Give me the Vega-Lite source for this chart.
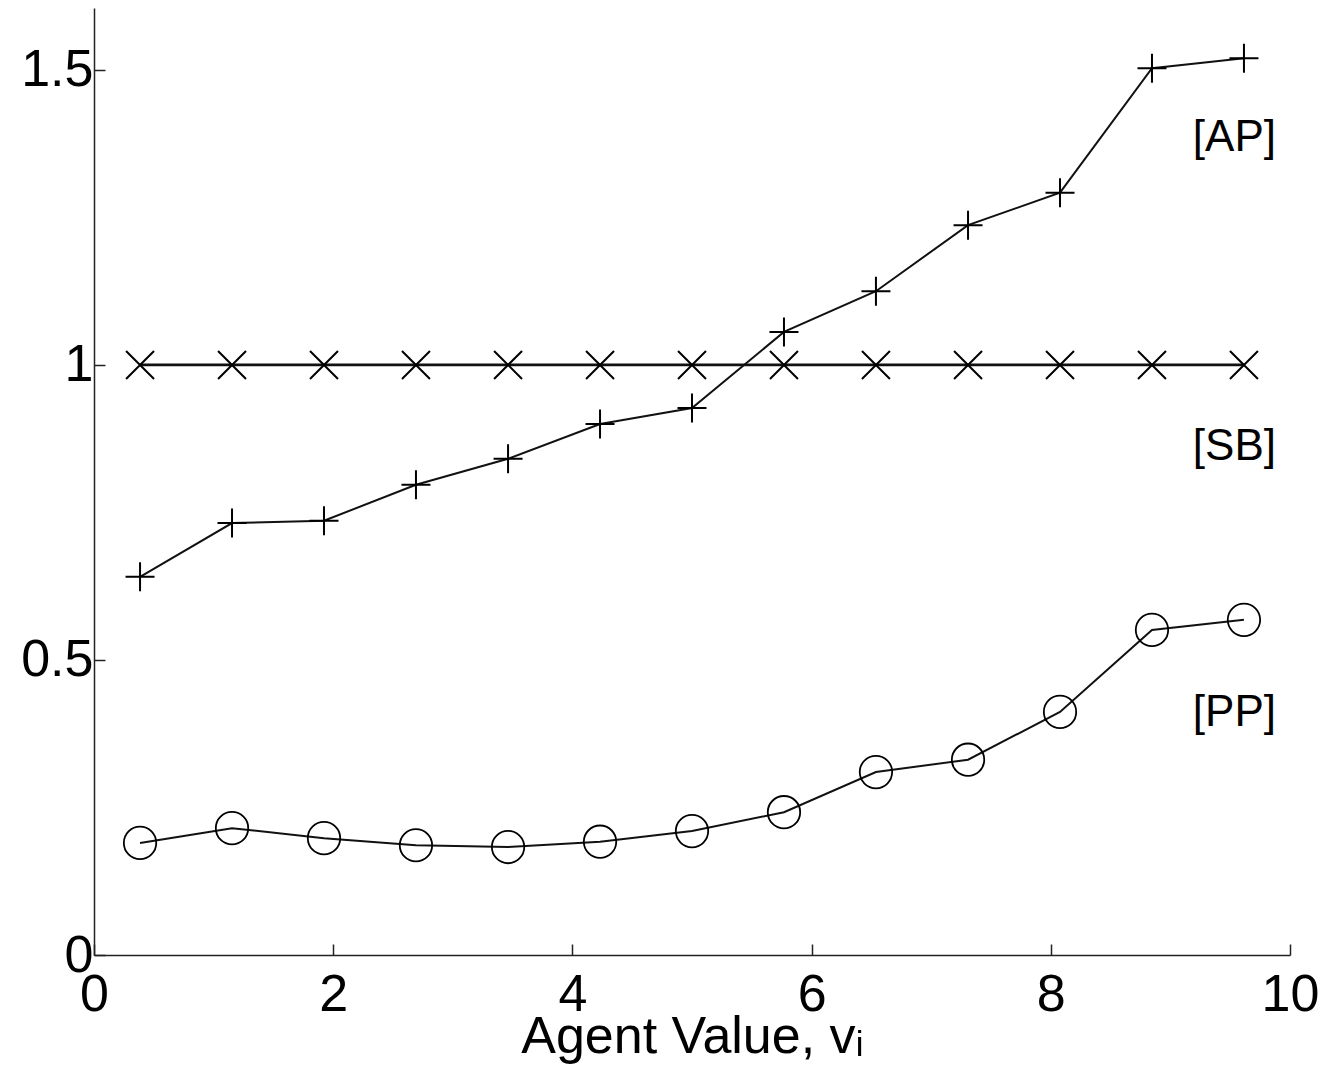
{
  "$schema": "https://vega.github.io/schema/vega-lite/v6.json",
  "width": 1196,
  "height": 947,
  "autosize": {"type": "none"},
  "padding": {"left": 94, "top": 8, "right": 35, "bottom": 125},
  "background": "white",
  "config": {
    "view": {"stroke": null},
    "font": "Liberation Sans",
    "axis": {
      "domainColor": "#222",
      "domainWidth": 1.5,
      "tickColor": "#222",
      "tickWidth": 1.5,
      "tickSize": -11,
      "grid": false,
      "labelFont": "Liberation Sans",
      "labelFontSize": 52,
      "labelColor": "black",
      "titleFont": "Liberation Sans",
      "titleFontSize": 52,
      "titleFontWeight": "normal",
      "titleColor": "black"
    }
  },
  "data": {
    "values": [
      {"series": "AP", "x": 0.385, "y": 0.641},
      {"series": "AP", "x": 1.154, "y": 0.732},
      {"series": "AP", "x": 1.923, "y": 0.736},
      {"series": "AP", "x": 2.692, "y": 0.797},
      {"series": "AP", "x": 3.462, "y": 0.841},
      {"series": "AP", "x": 4.231, "y": 0.9},
      {"series": "AP", "x": 5.0, "y": 0.927},
      {"series": "AP", "x": 5.769, "y": 1.056},
      {"series": "AP", "x": 6.538, "y": 1.125},
      {"series": "AP", "x": 7.308, "y": 1.237},
      {"series": "AP", "x": 8.077, "y": 1.292},
      {"series": "AP", "x": 8.846, "y": 1.503},
      {"series": "AP", "x": 9.615, "y": 1.52},
      {"series": "SB", "x": 0.385, "y": 1.0},
      {"series": "SB", "x": 1.154, "y": 1.0},
      {"series": "SB", "x": 1.923, "y": 1.0},
      {"series": "SB", "x": 2.692, "y": 1.0},
      {"series": "SB", "x": 3.462, "y": 1.0},
      {"series": "SB", "x": 4.231, "y": 1.0},
      {"series": "SB", "x": 5.0, "y": 1.0},
      {"series": "SB", "x": 5.769, "y": 1.0},
      {"series": "SB", "x": 6.538, "y": 1.0},
      {"series": "SB", "x": 7.308, "y": 1.0},
      {"series": "SB", "x": 8.077, "y": 1.0},
      {"series": "SB", "x": 8.846, "y": 1.0},
      {"series": "SB", "x": 9.615, "y": 1.0},
      {"series": "PP", "x": 0.385, "y": 0.19},
      {"series": "PP", "x": 1.154, "y": 0.215},
      {"series": "PP", "x": 1.923, "y": 0.198},
      {"series": "PP", "x": 2.692, "y": 0.186},
      {"series": "PP", "x": 3.462, "y": 0.183},
      {"series": "PP", "x": 4.231, "y": 0.192},
      {"series": "PP", "x": 5.0, "y": 0.21},
      {"series": "PP", "x": 5.769, "y": 0.242},
      {"series": "PP", "x": 6.538, "y": 0.31},
      {"series": "PP", "x": 7.308, "y": 0.331},
      {"series": "PP", "x": 8.077, "y": 0.412},
      {"series": "PP", "x": 8.846, "y": 0.551},
      {"series": "PP", "x": 9.615, "y": 0.568}
    ]
  },
  "encoding": {
    "x": {
      "field": "x", "type": "quantitative",
      "scale": {"domain": [0, 10], "nice": false, "zero": false},
      "axis": {"values": [0, 2, 4, 6, 8, 10], "labelPadding": 25, "title": "Agent Value, vᵢ", "titlePadding": -9, "labelFlush": false, "labelOverlap": false}
    },
    "y": {
      "field": "y", "type": "quantitative",
      "scale": {"domain": [0, 1.605], "nice": false, "zero": false},
      "axis": {"values": [0, 0.5, 1, 1.5], "labelExpr": "'' + datum.value", "labelPadding": 12, "title": null, "labelFlush": false, "labelOverlap": false}
    }
  },
  "layer": [
    {
      "transform": [{"filter": "datum.series == 'AP'"}],
      "mark": {"type": "line", "color": "#111", "strokeWidth": 2}
    },
    {
      "transform": [{"filter": "datum.series == 'AP'"}],
      "mark": {"type": "point", "shape": "M-1,0L1,0M0,-1L0,1", "size": 841, "filled": false, "stroke": "black", "strokeWidth": 2, "opacity": 1}
    },
    {
      "transform": [{"filter": "datum.series == 'SB'"}],
      "mark": {"type": "line", "color": "#111", "strokeWidth": 2.8}
    },
    {
      "transform": [{"filter": "datum.series == 'SB'"}],
      "mark": {"type": "point", "shape": "M-1,-1L1,1M-1,1L1,-1", "size": 784, "filled": false, "stroke": "black", "strokeWidth": 2, "opacity": 1}
    },
    {
      "transform": [{"filter": "datum.series == 'PP'"}],
      "mark": {"type": "line", "color": "#111", "strokeWidth": 2}
    },
    {
      "transform": [{"filter": "datum.series == 'PP'"}],
      "mark": {"type": "point", "shape": "circle", "size": 1050, "filled": false, "stroke": "black", "strokeWidth": 1.8, "opacity": 1}
    },
    {
      "data": {
        "values": [
          {"label": "[AP]", "x": 9.883, "y": 1.385},
          {"label": "[SB]", "x": 9.883, "y": 0.861},
          {"label": "[PP]", "x": 9.883, "y": 0.41}
        ]
      },
      "mark": {"type": "text", "align": "right", "baseline": "middle", "fontSize": 44, "font": "Liberation Sans", "color": "black"},
      "encoding": {"text": {"field": "label"}}
    }
  ]
}
